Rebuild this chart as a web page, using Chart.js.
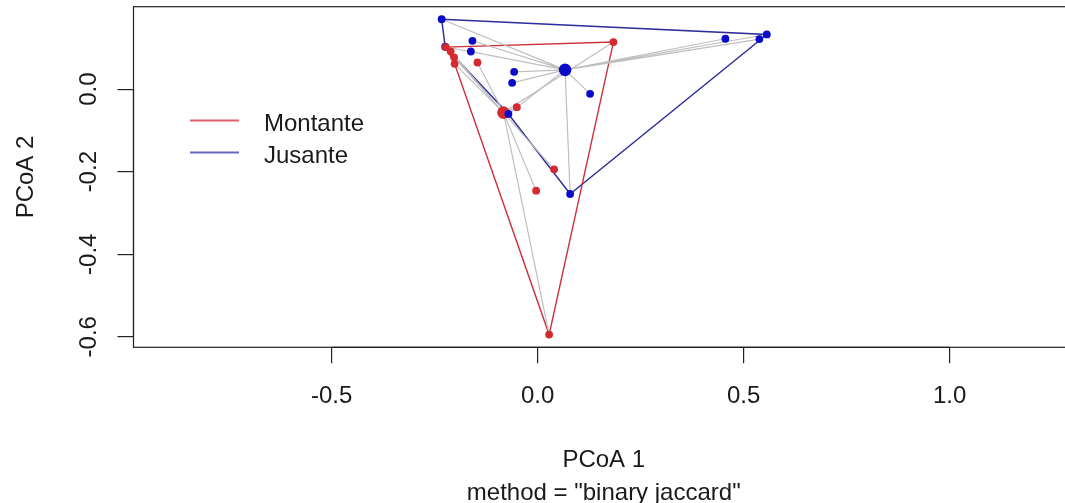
<!DOCTYPE html>
<html>
<head>
<meta charset="utf-8">
<script src="https://cdn.jsdelivr.net/npm/chart.js@4.4.1/dist/chart.umd.min.js"></script>
<style>
  html, body { margin: 0; padding: 0; background: #fff; overflow: hidden; }
  #wrap { width: 1075px; height: 503px; }
</style>
</head>
<body>
<div id="wrap"><canvas id="pcoa" width="1075" height="503"></canvas></div>
<script>
'use strict';

// ── Data ──────────────────────────────────────────────────────────────────────
const groupNames = ['Montante', 'Jusante'];

const montanteX = [-0.2228, -0.2112, -0.2027, -0.2015, -0.1461, -0.0505, 0.0400, -0.0036, 0.0279, 0.1840];
const montanteY = [0.1019, 0.0917, 0.0772, 0.0614, 0.0646, -0.0437, -0.1942, -0.2461, -0.5947, 0.1141];

const jusanteX = [-0.2330, -0.2245, -0.1583, -0.1621, -0.0570, -0.0619, 0.1274, -0.0709, 0.0789, 0.4558, 0.5383, 0.5563];
const jusanteY = [0.1694, 0.1027, 0.1172, 0.0913, 0.0420, 0.0153, -0.0114, -0.0600, -0.2541, 0.1221, 0.1214, 0.1325];

// group centroids
const centroidX = [-0.0830, 0.0667];
const centroidY = [-0.0568, 0.0468];

// convex hull vertex order (indices into each group)
const hullMontante = [0, 9, 8, 3, 0];
const hullJusante = [0, 11, 8, 7, 1, 0];

const xTicks = [-0.5, 0.0, 0.5, 1.0];
const yTicks = [-0.6, -0.4, -0.2, 0.0];

// ── Style ─────────────────────────────────────────────────────────────────────
const RED = '#d42a30';
const BLUE = '#0a0ac8';
const FONT = '24px "Liberation Sans", Arial, Helvetica, sans-serif';
const TEXT = '#1a1a1a';

const fmt = v => v.toFixed(1);

function pts(xs, ys) {
  return xs.map((v, i) => ({ x: v, y: ys[i] }));
}

function spider(xs, ys, cx, cy) {
  const out = [];
  xs.forEach((v, i) => {
    out.push({ x: v, y: ys[i] }, { x: cx, y: cy }, { x: cx, y: null });
  });
  return out;
}

function ring(xs, ys, idx) {
  return idx.map(i => ({ x: xs[i], y: ys[i] }));
}

const lineDs = (data, color, width, order) => ({
  data, showLine: true, borderColor: color, borderWidth: width,
  pointRadius: 0, fill: false, spanGaps: false, order,
});

// ── R-style box, rotated labels, titles, legend ───────────────────────────────
const rDecor = {
  id: 'rDecor',
  afterDraw(chart) {
    const { ctx, chartArea: a, scales: { x, y } } = chart;
    ctx.save();
    ctx.strokeStyle = '#222';
    ctx.lineWidth = 1.2;
    ctx.strokeRect(a.left, a.top, a.right - a.left, a.bottom - a.top);
    ctx.beginPath();
    ctx.moveTo(x.getPixelForValue(xTicks[0]), a.bottom);
    ctx.lineTo(x.getPixelForValue(xTicks[xTicks.length - 1]), a.bottom);
    ctx.moveTo(a.left, y.getPixelForValue(yTicks[0]));
    ctx.lineTo(a.left, y.getPixelForValue(yTicks[yTicks.length - 1]));
    ctx.stroke();

    ctx.font = FONT;
    ctx.fillStyle = TEXT;
    ctx.textAlign = 'center';
    ctx.textBaseline = 'alphabetic';

    yTicks.forEach(v => {
      ctx.save();
      ctx.translate(96, y.getPixelForValue(v));
      ctx.rotate(-Math.PI / 2);
      ctx.fillText(fmt(v), 0, 0);
      ctx.restore();
    });

    const midX = (a.left + a.right) / 2;
    const midY = (a.top + a.bottom) / 2;
    ctx.fillText('PCoA 1', midX, 466.5);
    ctx.fillText('method = "binary jaccard"', midX, 499.5);

    ctx.save();
    ctx.translate(32.5, midY);
    ctx.rotate(-Math.PI / 2);
    ctx.fillText('PCoA 2', 0, 0);
    ctx.restore();

    // legend
    const legendCols = ['rgba(212,42,60,0.75)', 'rgba(40,40,160,0.7)'];
    ctx.textAlign = 'left';
    groupNames.forEach((name, i) => {
      const ly = 120.5 + i * 32;
      ctx.strokeStyle = legendCols[i];
      ctx.lineWidth = 2;
      ctx.beginPath();
      ctx.moveTo(190, ly);
      ctx.lineTo(239, ly);
      ctx.stroke();
      ctx.fillText(name, 264, ly + 10);
    });
    ctx.restore();
  },
};

// ── Chart ─────────────────────────────────────────────────────────────────────
new Chart(document.getElementById('pcoa'), {
  type: 'scatter',
  data: {
    datasets: [
      { label: groupNames[0], data: pts(montanteX, montanteY), backgroundColor: RED,
        borderWidth: 0, pointRadius: 3.9, order: 0 },
      { label: groupNames[1], data: pts(jusanteX, jusanteY), backgroundColor: BLUE,
        borderWidth: 0, pointRadius: 3.9, order: 0 },
      { label: 'centroids', data: pts(centroidX, centroidY), backgroundColor: [RED, BLUE],
        borderWidth: 0, pointRadius: 6.3, order: 1 },
      lineDs(spider(montanteX, montanteY, centroidX[0], centroidY[0]), '#bfbfbf', 1.2, 2),
      lineDs(spider(jusanteX, jusanteY, centroidX[1], centroidY[1]), '#bfbfbf', 1.2, 2),
      lineDs(ring(montanteX, montanteY, hullMontante), '#cf3038', 1.4, 3),
      lineDs(ring(jusanteX, jusanteY, hullJusante), '#2e2e9c', 1.5, 3),
    ],
  },
  options: {
    responsive: false,
    devicePixelRatio: 1,
    animation: false,
    events: [],
    layout: { autoPadding: false, padding: { top: 6.7, right: 1, bottom: 0, left: 0 } },
    plugins: { legend: { display: false }, tooltip: { enabled: false } },
    scales: {
      x: {
        type: 'linear', position: 'bottom', min: -0.981, max: 1.302,
        afterBuildTicks: s => { s.ticks = xTicks.map(v => ({ value: v })); },
        afterFit: s => { s.height = 155.7; },
        grid: { drawOnChartArea: false, drawTicks: true, tickLength: 16, color: '#222', lineWidth: 1.2 },
        border: { display: false },
        ticks: { color: TEXT, padding: 19, maxRotation: 0, autoSkip: false,
          font: { family: '"Liberation Sans", Arial, sans-serif', size: 24 },
          callback: v => fmt(v) },
      },
      y: {
        type: 'linear', position: 'left', min: -0.6255, max: 0.1998,
        afterBuildTicks: s => { s.ticks = yTicks.map(v => ({ value: v })); },
        afterFit: s => { s.width = 133.5; },
        grid: { drawOnChartArea: false, drawTicks: true, tickLength: 16, color: '#222', lineWidth: 1.2 },
        border: { display: false },
        ticks: { display: false },
      },
    },
  },
  plugins: [rDecor],
});
</script>
</body>
</html>
